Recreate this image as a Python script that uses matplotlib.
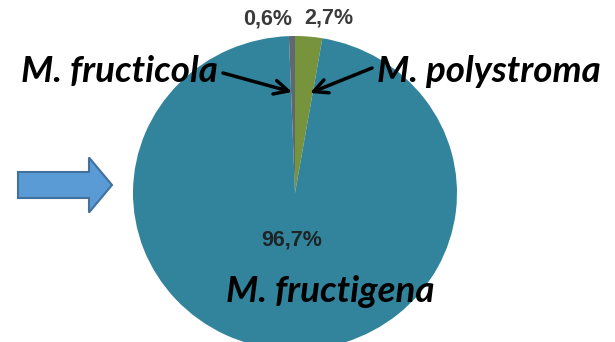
import matplotlib
matplotlib.use("Agg")
import matplotlib.pyplot as plt
from matplotlib.patches import FancyArrow

# Anteile der Monilinia-Arten (in %)
species = ["M. polystroma", "M. fructigena", "M. fructicola"]
shares = [2.7, 96.7, 0.6]
colors = ["#77933C", "#31849B", "#5F6870"]

W, H = 615, 342
# Mitte und Halbachsen der (leicht gestauchten) Torte in Pixeln
cx, cy, rx, ry = 295, 193, 162, 157

fig = plt.figure(figsize=(W / 100, H / 100), dpi=100)

# Tortendiagramm
ax = fig.add_axes([0, 0, 1, 1])
ax.pie(shares, colors=colors, startangle=90, counterclock=False,
       radius=1, center=(0, 0), wedgeprops=dict(linewidth=0))
ax.set_aspect("auto")
ax.set_xlim(-cx / rx, (W - cx) / rx)
ax.set_ylim(-(H - cy) / ry, cy / ry)
ax.axis("off")

# Beschriftungen in Pixelkoordinaten
ov = fig.add_axes([0, 0, 1, 1])
ov.set_xlim(0, W)
ov.set_ylim(H, 0)
ov.axis("off")
ov.patch.set_alpha(0)

def pct(v):
    return f"{v:.1f}%".replace(".", ",")

pct_font = dict(family="Liberation Sans", weight="bold", fontsize=15.5,
                ha="center", va="center")
ov.text(268, 19, pct(shares[2]), color="#3A3A3A", **pct_font)
ov.text(329, 18, pct(shares[0]), color="#3A3A3A", **pct_font)
ov.text(292, 240, pct(shares[1]), color="#1E2326", **pct_font)

name_font = dict(family="Lato", weight="bold", style="italic", fontsize=26.5,
                 color="black", va="baseline")
ov.text(21, 82, species[2], ha="left", **name_font)
ov.text(377, 82, species[0], ha="left", **name_font)
ov.text(226, 302, species[1], ha="left", **name_font)

arrow = dict(arrowstyle="->,head_length=1.0,head_width=0.5", color="black",
             lw=2.5, shrinkA=0, shrinkB=0)
ov.annotate("", xy=(292, 92), xytext=(223, 73), arrowprops=arrow)
ov.annotate("", xy=(310, 93), xytext=(372, 68), arrowprops=arrow)

# blauer Blockpfeil links
ov.add_patch(FancyArrow(18, 185, 71, 0, width=26, head_width=55,
                        head_length=23, length_includes_head=False,
                        facecolor="#5B9BD5", edgecolor="#41719C", lw=1.5))

fig.savefig("out.png", dpi=100)
